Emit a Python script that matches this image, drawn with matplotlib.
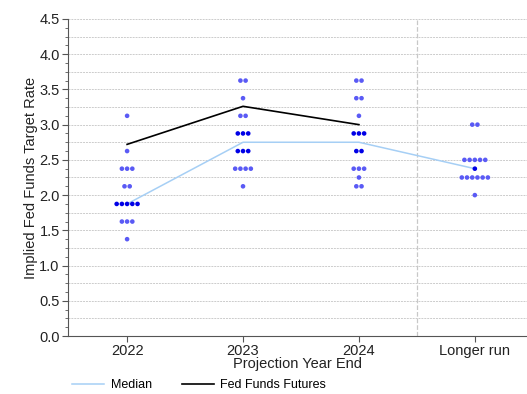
import matplotlib
matplotlib.use('Agg')
import matplotlib.pyplot as plt
import numpy as np
from collections import Counter

plt.rcParams['font.family'] = ['Liberation Sans', 'DejaVu Sans']

# data
categories = ['2022', '2023', '2024', 'Longer run']
dots = [
    [3.125, 2.625, 2.375, 2.375, 2.375, 2.125, 2.125, 1.875, 1.875, 1.875, 1.875, 1.875,
     1.625, 1.625, 1.625, 1.375],
    [3.625, 3.625, 3.375, 3.125, 3.125, 2.875, 2.875, 2.875, 2.625, 2.625, 2.625,
     2.375, 2.375, 2.375, 2.375, 2.125],
    [3.625, 3.625, 3.375, 3.375, 3.125, 2.875, 2.875, 2.875, 2.625, 2.625,
     2.375, 2.375, 2.375, 2.25, 2.125, 2.125],
    [3.0, 3.0, 2.5, 2.5, 2.5, 2.5, 2.5, 2.375, 2.25, 2.25, 2.25, 2.25, 2.25, 2.25, 2.0],
]
# rows drawn in the darker blue
dark_rows = [[1.875], [2.875, 2.625], [2.875, 2.625], [2.375]]
median = [1.875, 2.75, 2.75, 2.375]
futures = [2.72, 3.26, 3.0]

light_c = '#5a5af5'
dark_c = '#0000e6'
step = 0.045

fig = plt.figure(figsize=(5.27, 3.94), dpi=100)
ax = fig.add_axes([0.129, 0.147, 0.871, 0.805])

x = np.arange(len(categories))
ax.plot(x, median, color='#a6cff5', lw=1.1, label='Median', zorder=2)
ax.plot(x[:3], futures, color='black', lw=1.2, label='Fed Funds Futures', zorder=2)

for i, vals in enumerate(dots):
    cnt = Counter(vals)
    for v, n in cnt.items():
        xs = x[i] + (np.arange(n) - (n - 1) / 2) * step
        c = dark_c if v in dark_rows[i] else light_c
        ax.scatter(xs, [v] * n, s=11, color=c, edgecolors='none', zorder=3)

ax.axvline(2.5, color='#c8c8c8', lw=0.9, ls='--', zorder=1)

ax.set_ylim(0, 4.5)
ax.set_xlim(-0.51, 3.45)
ax.set_yticks(np.arange(0, 4.51, 0.5))
ax.set_yticks(np.arange(0, 4.51, 0.125), minor=True)
ax.set_xticks(x)
ax.set_xticklabels(categories)
for y in np.arange(0.25, 4.51, 0.25):
    ax.axhline(y, color='#cccccc', lw=0.7, ls=(0, (2, 1)), zorder=0)

for s in ['top', 'right']:
    ax.spines[s].set_visible(False)
ax.spines['left'].set_color('#555555')
ax.spines['bottom'].set_color('#555555')
ax.tick_params(axis='both', labelsize=10.5, colors='#555555', labelcolor='#222222')
ax.tick_params(axis='y', which='major', length=4, pad=2)
ax.tick_params(axis='y', which='minor', length=2, color='#555555')
ax.tick_params(axis='x', length=4, pad=2)

ax.set_ylabel('Implied Fed Funds Target Rate', fontsize=10.5, labelpad=1, color='#222222')
ax.set_xlabel('Projection Year End', fontsize=10.5, labelpad=-1, color='#222222')

fig.legend(loc='lower left', bbox_to_anchor=(0.115, -0.022), ncol=2, frameon=False,
           fontsize=9, handlelength=2.6, handletextpad=0.5, columnspacing=2.4)

fig.savefig('out.png', dpi=100)
